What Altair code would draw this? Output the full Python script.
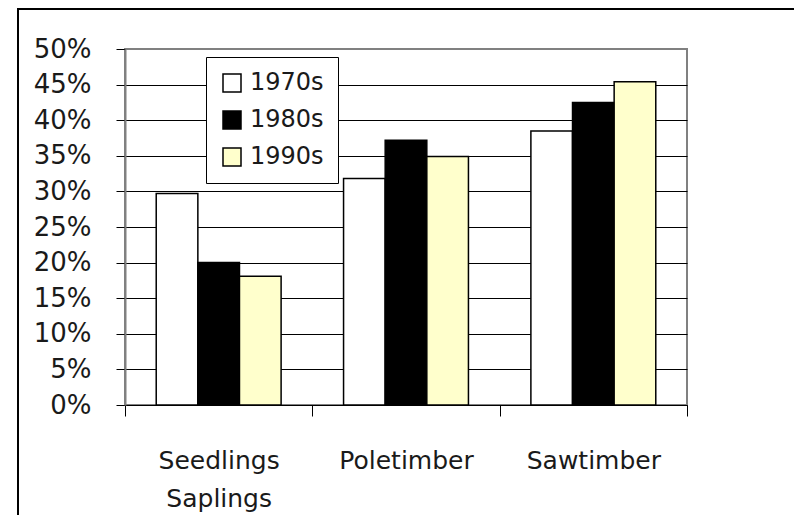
import altair as alt
import pandas as pd

categories = ["Seedlings Saplings", "Poletimber", "Sawtimber"]
decades = ["1970s", "1980s", "1990s"]
values_1970s = [0.297, 0.318, 0.385]
values_1980s = [0.200, 0.372, 0.425]
values_1990s = [0.181, 0.349, 0.454]
colors = ["#FFFFFF", "#000000", "#FFFFCC"]
y_ticks = [0, 0.05, 0.10, 0.15, 0.20, 0.25, 0.30, 0.35, 0.40, 0.45, 0.50]

rows = []
for series, dec in zip([values_1970s, values_1980s, values_1990s], decades):
    for cat, v in zip(categories, series):
        rows.append({"category": cat, "decade": dec, "value": v})
df = pd.DataFrame(rows)

W, H = 562, 356
PL, PT, PR, PB = 117, 41, 107, 110
FONT = "DejaVu Sans"

bars = alt.Chart(df).mark_bar(stroke="black", strokeWidth=1.5).encode(
    x=alt.X("category:N", sort=categories, title=None,
            scale=alt.Scale(paddingInner=0, paddingOuter=0),
            axis=alt.Axis(tickBand="extent", labelAngle=0, labelFont=FONT,
                          labelFontSize=25, labelColor="#1a1a1a",
                          labelPadding=32, labelLineHeight=38,
                          labelExpr="datum.label == 'Seedlings Saplings' ? ['Seedlings', 'Saplings'] : datum.label",
                          tickColor="black", tickSize=11, domainColor="black",
                          domainWidth=1, grid=False)),
    xOffset=alt.XOffset("decade:N", sort=decades,
                        scale=alt.Scale(paddingInner=0, paddingOuter=0.75)),
    y=alt.Y("value:Q", title=None,
            scale=alt.Scale(domain=[0, 0.5], nice=False),
            axis=alt.Axis(values=y_ticks, format=".0%", labelFont=FONT,
                          labelFontSize=26, labelColor="#1a1a1a",
                          labelPadding=25, tickColor="black", tickSize=9,
                          domainColor="#808080", domainWidth=2,
                          gridColor=alt.condition("datum.value >= 0.5",
                                                  alt.value("#808080"),
                                                  alt.value("black")),
                          gridWidth=1)),
    fill=alt.Fill("decade:N", sort=decades,
                  scale=alt.Scale(domain=decades, range=colors),
                  legend=alt.Legend(title=None, orient="none", legendX=81,
                                    legendY=8, fillColor="white",
                                    strokeColor="black", padding=14,
                                    symbolType="square", symbolSize=324,
                                    symbolStrokeColor="black",
                                    symbolStrokeWidth=1.5, labelFont=FONT,
                                    labelFontSize=24, labelColor="#1a1a1a",
                                    labelOffset=6, rowPadding=13)),
)

border_left = alt.Chart(alt.Data(values=[{}])).mark_rule(
    color="black", strokeWidth=2).encode(
    x=alt.value(-107), y=alt.value(-41), y2=alt.value(H + PB))
border_top = alt.Chart(alt.Data(values=[{}])).mark_rule(
    color="black", strokeWidth=2).encode(
    x=alt.value(-108), x2=alt.value(W + PR), y=alt.value(-40))

chart = alt.layer(bars, border_left, border_top).properties(
    width=W, height=H,
    autosize=alt.AutoSizeParams(type="none"),
    padding={"left": PL, "top": PT, "right": PR, "bottom": PB},
    background="white",
).configure_view(stroke="#808080", strokeWidth=2)

chart.save("out.html", embed_options={"renderer": "svg", "actions": False})
